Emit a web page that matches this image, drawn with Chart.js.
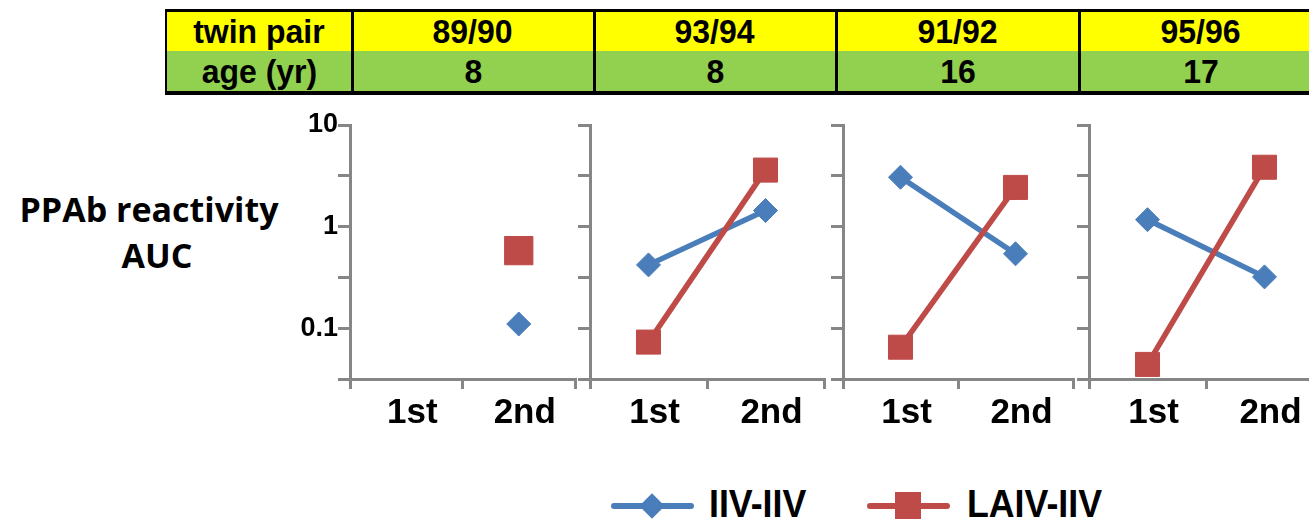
<!DOCTYPE html>
<html>
<head>
<meta charset="utf-8">
<script src="https://cdn.jsdelivr.net/npm/chart.js@4.4.1/dist/chart.umd.min.js"></script>
<style>
	body { margin: 0; width: 1309px; height: 519px; overflow: hidden; background: #fff; position: relative; font-family: 'Liberation Sans', Arial, sans-serif; }
	.cell { position: absolute; display: flex; align-items: center; justify-content: center; font-weight: bold; font-size: 34px; color: #000; }
	.cell span { display: inline-block; transform: scaleX(0.94); }
	.bar { position: absolute; background: #000; }
	canvas { position: absolute; }
	.ytitle { position: absolute; width: 300px; text-align: center; font-family: 'Open Sans', sans-serif; font-weight: bold; font-size: 34px; line-height: 40px; color: #000; }
	.legtext { position: absolute; top: 485px; font-weight: bold; font-size: 38px; line-height: 38px; color: #000; transform: scaleX(0.94); transform-origin: left center; white-space: nowrap; }
	.legline { position: absolute; top: 503px; width: 83px; height: 6px; border-radius: 3px; }
</style>
</head>
<body>
<div id="table"></div>
<div class="ytitle" style="left:-1px; top:189px;">PPAb reactivity</div>
<div class="ytitle" style="left:7px; top:235px;">AUC</div>
<div id="charts"></div>

<div class="legline" style="left:611px; background:#4A7EBB;"></div>
<div style="position:absolute; left:643px; top:497px; width:18px; height:18px; background:#4A7EBB; transform:rotate(45deg);"></div>
<div class="legtext" style="left:709px;">IIV-IIV</div>
<div class="legline" style="left:867px; background:#BE4B48;"></div>
<div style="position:absolute; left:895px; top:492px; width:26px; height:27px; background:#BE4B48;"></div>
<div class="legtext" style="left:967px;">LAIV-IIV</div>

<script>
// data
const pairs = ['89/90', '93/94', '91/92', '95/96'];
const ages = ['8', '8', '16', '17'];
const visits = ['1st', '2nd'];
const iivIiv = [[null, 0.11], [0.42, 1.44], [3.06, 0.54], [1.17, 0.32]];
const laivIiv = [[null, 0.58], [0.073, 3.6], [0.065, 2.43], [0.044, 3.84]];
const yTicks = [0.031623, 0.1, 0.31623, 1, 3.1623, 10];
const yLabels = ['', '0.1', '', '1', '', '10'];
const rowTitles = ['twin pair', 'age (yr)'];

const blue = '#4A7EBB';
const red = '#BE4B48';
const axisGray = '#868686';

// header table
const table = document.getElementById('table');
const cols = [166, 352, 594, 836, 1079, 1322];

function addDiv(cls, x, y, w, h, bg, text) {
	var d = document.createElement('div');
	d.className = cls;
	d.style.left = x + 'px';
	d.style.top = y + 'px';
	d.style.width = w + 'px';
	d.style.height = h + 'px';
	if (bg) d.style.background = bg;
	if (text != null) {
		var s = document.createElement('span');
		s.textContent = text;
		d.appendChild(s);
	}
	table.appendChild(d);
}

for (var i = 0; i < cols.length - 1; i++) {
	var top1 = i === 0 ? rowTitles[0] : pairs[i - 1];
	var top2 = i === 0 ? rowTitles[1] : ages[i - 1];
	addDiv('cell', cols[i], 11, cols[i + 1] - cols[i], 40, '#FFFF00', top1);
	addDiv('cell', cols[i], 51, cols[i + 1] - cols[i], 41, '#92D050', top2);
}
addDiv('bar', 165, 9, 1150, 3);
addDiv('bar', 165, 91, 1150, 4);
for (var i = 0; i < cols.length; i++) {
	addDiv('bar', cols[i] - 1, 9, i === 0 ? 2 : 3, 86);
}

// four panels, one chart each
const axisX = [350, 590, 843, 1089];
const rightX = [575, 824, 1073, 1323];
const yWidth = [60, 14, 14, 14];
const holder = document.getElementById('charts');

function makePanel(p) {
	var c = document.createElement('canvas');
	var left = axisX[p] - yWidth[p];
	var w = rightX[p] - left + 4;
	c.width = w;
	c.height = 330;
	c.style.left = left + 'px';
	c.style.top = '110px';
	c.style.width = w + 'px';
	c.style.height = '330px';
	holder.appendChild(c);

	new Chart(c.getContext('2d'), {
		type: 'line',
		data: {
			labels: visits,
			datasets: [{
				label: 'IIV-IIV',
				data: iivIiv[p],
				borderColor: blue,
				backgroundColor: blue,
				borderWidth: 5.5,
				pointStyle: 'rectRot',
				pointRadius: 12,
				pointBorderWidth: 1,
				order: 1,
				clip: false
			}, {
				label: 'LAIV-IIV',
				data: laivIiv[p],
				borderColor: red,
				backgroundColor: red,
				borderWidth: 5.5,
				pointStyle: 'rect',
				pointRadius: p === 0 ? 20 : 17,
				pointBorderWidth: 1,
				order: 0,
				clip: false
			}]
		},
		options: {
			responsive: false,
			animation: false,
			devicePixelRatio: 1,
			layout: { autoPadding: false, padding: { top: 15, bottom: 1, left: 0, right: 4 } },
			plugins: { legend: { display: false }, tooltip: { enabled: false } },
			scales: {
				x: {
					type: 'category',
					offset: true,
					grid: { offset: true, drawOnChartArea: false, drawTicks: true, tickLength: 10, color: axisGray, lineWidth: 3 },
					border: { color: axisGray, width: 3 },
					ticks: { color: '#000', padding: 3, labelOffset: 6, maxRotation: 0, font: { family: 'Liberation Sans', weight: 'bold', size: 35 } },
					afterFit: function(s) { s.height = 60; }
				},
				y: {
					type: 'logarithmic',
					min: yTicks[0],
					max: yTicks[yTicks.length - 1],
					afterBuildTicks: function(s) {
						s.ticks = yTicks.map(v => ({ value: v }));
					},
					grid: { drawOnChartArea: false, drawTicks: true, tickLength: 12, color: axisGray, lineWidth: 3 },
					border: { color: axisGray, width: 3 },
					ticks: {
						autoSkip: false,
						padding: 0,
						color: '#000',
						font: { family: 'Liberation Sans', weight: 'bold', size: 27, lineHeight: 0.8 },
						callback: function(v, idx) { return p === 0 ? yLabels[idx] : ''; }
					},
					afterFit: function(s) { s.width = yWidth[p]; }
				}
			}
		}
	});
}

for (var p = 0; p < pairs.length; p++) {
	makePanel(p);
}
</script>
</body>
</html>
